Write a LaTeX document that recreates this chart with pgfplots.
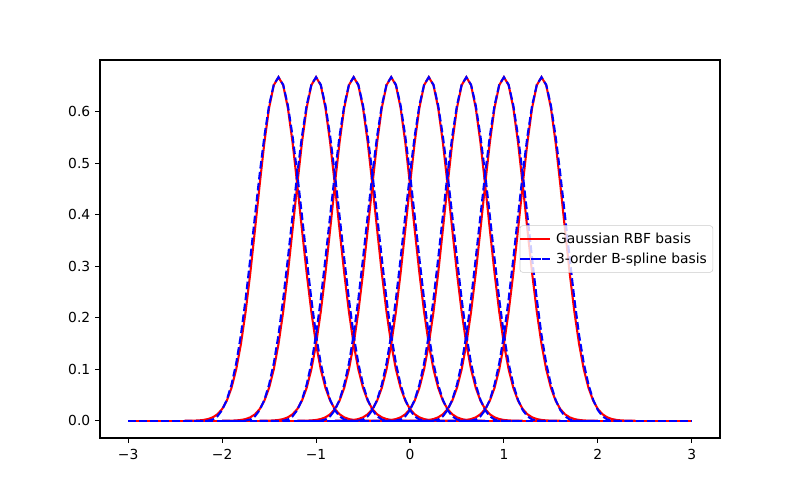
\documentclass[border=0pt]{standalone}
\usepackage{fontspec}
\setmainfont{DejaVu Sans}
\usepackage{pgfplots}
\usepackage{pgfplotstable}
\pgfplotsset{compat=1.18}

% one basis bump, offset dx from its centre; g = Gaussian RBF, b = cubic B-spline
\pgfplotstableread{
dx g b
-1.00 0.00006 0
-0.95 0.00014 0
-0.90 0.00034 0
-0.85 0.00076 0
-0.80 0.00165 0
-0.75 0.00342 0.00033
-0.70 0.00675 0.00260
-0.65 0.0127 0.00879
-0.60 0.0228 0.02083
-0.55 0.0391 0.04069
-0.50 0.0640 0.07031
-0.45 0.0999 0.11165
-0.40 0.1488 0.16667
-0.35 0.2114 0.2360
-0.30 0.2867 0.3151
-0.25 0.3710 0.3981
-0.20 0.4582 0.4792
-0.15 0.5399 0.5524
-0.10 0.6070 0.6120
-0.05 0.6512 0.6520
0.00 0.6667 0.6667
0.05 0.6512 0.6520
0.10 0.6070 0.6120
0.15 0.5399 0.5524
0.20 0.4582 0.4792
0.25 0.3710 0.3981
0.30 0.2867 0.3151
0.35 0.2114 0.2360
0.40 0.1488 0.16667
0.45 0.0999 0.11165
0.50 0.0640 0.07031
0.55 0.0391 0.04069
0.60 0.0228 0.02083
0.65 0.0127 0.00879
0.70 0.00675 0.00260
0.75 0.00342 0.00033
0.80 0.00165 0
0.85 0.00076 0
0.90 0.00034 0
0.95 0.00014 0
1.00 0.00006 0
}\bump

\definecolor{mplred}{RGB}{255,0,0}
\definecolor{mplblue}{RGB}{0,0,255}

\begin{document}
\begin{tikzpicture}
\begin{axis}[
  name=ax,
  scale only axis,
  width=446.4bp, height=272.16bp,
  xmin=-3.3, xmax=3.3,
  ymin=-0.0333, ymax=0.7,
  xtick={-3,-2,-1,0,1,2,3},
  xticklabels={−3,−2,−1,0,1,2,3},
  ytick={0,0.1,0.2,0.3,0.4,0.5,0.6},
  yticklabels={0.0,0.1,0.2,0.3,0.4,0.5,0.6},
  tick label style={font=\fontsize{10}{12}\selectfont},
  tick align=outside,
  major tick length=3.5bp,
  tick style={black, line width=0.8bp},
  xtick pos=bottom, ytick pos=left,
  axis line style={line width=0.8bp},
  xticklabel style={yshift=-1bp},
  legend cell align=left,
  legend image code/.code={
    \draw[#1, overlay] (-1.4bp,0bp) -- (20.2bp,0bp);
    \path (0bp,0bp) -- (20.2bp,0bp);},
  legend style={at={([xshift=-5bp]1,0.5)}, anchor=east,
    draw=black!20, fill=white, fill opacity=0.8, text opacity=1,
    rounded corners=2bp, font=\fontsize{10}{12}\selectfont,
    inner xsep=0.7bp, inner ysep=3bp, row sep=1.5bp,
    nodes={inner xsep=3.6bp}},
]
\addplot[mplred, line width=1.5bp] table[x expr=\thisrow{dx}-1.4, y=g] {\bump};
\addlegendentry{Gaussian RBF basis}
\pgfplotsinvokeforeach{-1.0,-0.6,-0.2,0.2,0.6,1.0,1.4}{
  \addplot[mplred, line width=1.5bp, forget plot] table[x expr=\thisrow{dx}+#1, y=g] {\bump};
}
\addplot[mplred, line width=1.5bp, forget plot] coordinates {(-3,0) (3,0)};
\addplot[mplblue, line width=1.5bp, dash pattern=on 5.55bp off 2.4bp] table[x expr=\thisrow{dx}-1.4, y=b] {\bump};
\addlegendentry{3-order B-spline basis}
\pgfplotsinvokeforeach{-1.0,-0.6,-0.2,0.2,0.6,1.0,1.4}{
  \addplot[mplblue, line width=1.5bp, dash pattern=on 5.55bp off 2.4bp, forget plot] table[x expr=\thisrow{dx}+#1, y=b] {\bump};
}
\addplot[mplblue, line width=1.5bp, dash pattern=on 5.55bp off 2.4bp, forget plot] coordinates {(-3,0) (3,0)};
\end{axis}
\path ([shift={(-72bp,-44.64bp)}]ax.south west) rectangle ([shift={(57.6bp,43.2bp)}]ax.north east);
\end{tikzpicture}
\end{document}
